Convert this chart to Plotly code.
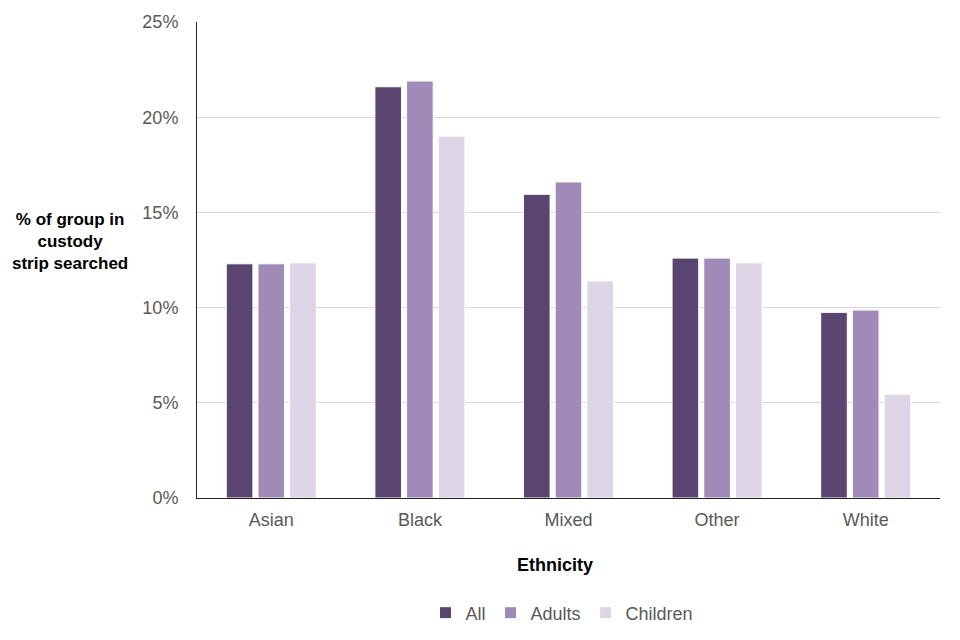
import plotly.graph_objects as go

categories = ["Asian", "Black", "Mixed", "Other", "White"]
all_vals = [12.3, 21.6, 15.95, 12.6, 9.75]
adults_vals = [12.3, 21.9, 16.6, 12.6, 9.87]
children_vals = [12.35, 19.0, 11.4, 12.35, 5.45]
series_names = ["All", "Adults", "Children"]
colors = ["#5a4570", "#a08ab8", "#ddd5e6"]

fig = go.Figure()
for name, vals, col in zip(series_names, [all_vals, adults_vals, children_vals], colors):
    fig.add_trace(go.Bar(
        x=categories, y=[v / 100 for v in vals], name=name,
        marker=dict(color=col, line=dict(color="white", width=1)),
    ))

W, H = 960, 640
off = 8
# target plot area in screen pixels: x 197..940, y 22..498
ml, mr, mt, mb = 197 - off, off + W - 940, 22 - off, off + H - 498
pw, ph = W - ml - mr, H - mt - mb

def px_x(x):
    return (x - off - ml) / pw

def px_y(y):
    return (H - mb - (y - off)) / ph

fig.update_layout(
    width=W, height=H,
    margin=dict(l=ml, r=mr, t=mt, b=mb, autoexpand=False),
    paper_bgcolor="white", plot_bgcolor="white",
    barmode="group", bargap=0.36, bargroupgap=0.16,
    font=dict(family="Liberation Sans, Arial, sans-serif", size=18, color="#595959"),
    showlegend=True,
    legend=dict(orientation="h", x=px_x(562), xanchor="center", y=px_y(613), yanchor="middle",
                font=dict(size=18, color="#595959"), itemwidth=30, traceorder="normal"),
    xaxis=dict(showline=True, linecolor="#222222", linewidth=1, ticks="", automargin=False,
               ticklabelstandoff=5,
               tickfont=dict(size=18, color="#595959"), showgrid=False),
    yaxis=dict(range=[0, 0.25], dtick=0.05, tickformat=".0%", showline=True, automargin=False,
               linecolor="#222222", linewidth=1, gridcolor="#d9d9d9", gridwidth=1,
               zeroline=False, ticks="", ticklabelstandoff=14,
               tickfont=dict(size=18, color="#595959")),
    annotations=[
        dict(text="<b>% of group in<br>custody<br>strip searched</b>", xref="paper", yref="paper",
             x=px_x(70), y=px_y(241), xanchor="center", yanchor="middle", showarrow=False,
             font=dict(size=17, color="black"), align="center"),
        dict(text="<b>Ethnicity</b>", xref="paper", yref="paper",
             x=px_x(555), y=px_y(565), xanchor="center", yanchor="middle", showarrow=False,
             font=dict(size=18, color="black")),
    ],
)

fig.write_html("out.html")
